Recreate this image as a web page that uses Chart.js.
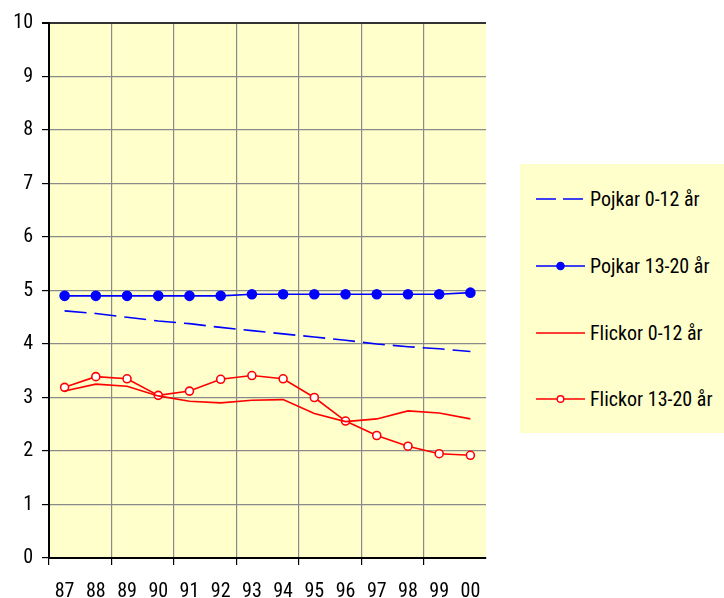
<!DOCTYPE html>
<html>
<head>
<meta charset="utf-8">
<script src="https://cdn.jsdelivr.net/npm/chart.js@4.4.1/dist/chart.umd.min.js"></script>
<style>
    html, body { margin:0; padding:0; background:#fff; }
    #wrap { position:relative; width:724px; height:598px; }
    #legend {
        position:absolute; left:520px; top:164px; width:204px; height:269px;
        background:#FFFFCC;
        font-family:"Roboto Condensed", "Liberation Sans", sans-serif;
        font-size:20px; color:#000;
    }
    .item { position:absolute; left:16px; height:24px; display:flex; align-items:center; white-space:nowrap; }
    .item svg { margin-right:5px; }
</style>
</head>
<body>
<div id="wrap">
    <canvas id="chart" width="724" height="598"></canvas>
    <div id="legend"></div>
</div>
<script>
// ===============================
// DATA
// ===============================

const years = ["87","88","89","90","91","92","93","94","95","96","97","98","99","00"];

const pojkar012  = [4.62,4.57,4.50,4.43,4.38,4.31,4.25,4.19,4.13,4.07,4.00,3.95,3.91,3.86];
const pojkar1320 = [4.90,4.90,4.90,4.90,4.90,4.90,4.93,4.93,4.93,4.93,4.93,4.93,4.93,4.96];
const flickor012 = [3.12,3.25,3.21,3.03,2.93,2.90,2.95,2.96,2.70,2.55,2.60,2.75,2.71,2.60];
const flickor1320= [3.19,3.39,3.35,3.04,3.12,3.34,3.41,3.35,3.00,2.56,2.29,2.09,1.95,1.92];

const yTicks = [0,1,2,3,4,5,6,7,8,9,10];

const FONT = "'Roboto Condensed', 'Liberation Sans', sans-serif";

// ===============================
// CHART
// ===============================

const series = [
    { label:"Pojkar 0-12 år",   data:pojkar012,   color:"#0000FF", dash:[22,8], radius:0,   fill:null },
    { label:"Pojkar 13-20 år",  data:pojkar1320,  color:"#0000FF", dash:[],     radius:4.5, fill:"#0000FF" },
    { label:"Flickor 0-12 år",  data:flickor012,  color:"#FF0000", dash:[],     radius:0,   fill:null },
    { label:"Flickor 13-20 år", data:flickor1320, color:"#FF0000", dash:[],     radius:4,   fill:"#FFFFFF" }
];

const plotBg = {
    id:"plotBg",
    beforeDraw(chart){
        const a = chart.chartArea;
        const ctx = chart.ctx;
        ctx.save();
        ctx.fillStyle = "#FFFFCC";
        ctx.fillRect(a.left, a.top, a.right - a.left, a.bottom - a.top);
        ctx.restore();
    }
};

new Chart(document.getElementById("chart"), {
    type:"line",
    data:{
        labels:years,
        datasets:series.map(s => ({
            label:s.label,
            data:s.data,
            borderColor:s.color,
            borderWidth:1.6,
            borderDash:s.dash,
            backgroundColor:s.fill || s.color,
            pointRadius:s.radius,
            pointBorderWidth:1.6,
            pointBorderColor:s.color,
            pointBackgroundColor:s.fill || s.color,
            tension:0,
            fill:false
        }))
    },
    options:{
        responsive:false,
        animation:false,
        layout:{ padding:{ left:0, top:23, right:238, bottom:0 } },
        plugins:{
            legend:{ display:false },
            tooltip:{ enabled:false }
        },
        scales:{
            x:{
                offset:true,
                afterFit(s){ s.height = 40; },
                grid:{
                    offset:true,
                    color:c => c.index === 14 ? "#333333" : (c.index % 2 === 0 ? "#8A8A8A" : "rgba(0,0,0,0)"),
                    lineWidth:c => c.index === 14 ? 2 : 1.2,
                    tickColor:c => c.index % 2 === 0 ? "#000000" : "rgba(0,0,0,0)",
                    tickLength:7
                },
                border:{ color:"#000000", width:2 },
                ticks:{
                    color:"#000",
                    font:{ family:FONT, size:20 },
                    padding:15,
                    maxRotation:0,
                    autoSkip:false
                }
            },
            y:{
                min:0,
                max:10,
                afterFit(s){ s.width = 49; },
                afterBuildTicks(s){ s.ticks = yTicks.map(v => ({ value:v })); },
                grid:{
                    color:c => c.tick && c.tick.value === 10 ? "#333333" : "#8A8A8A",
                    lineWidth:c => c.tick && c.tick.value === 10 ? 2 : 1.2,
                    tickColor:"#000000",
                    tickLength:7
                },
                border:{ color:"#000000", width:2 },
                ticks:{
                    color:"#000",
                    font:{ family:FONT, size:20 },
                    padding:9
                }
            }
        }
    },
    plugins:[plotBg]
});

// ===============================
// LEGEND
// ===============================

const legend = document.getElementById("legend");
const itemTops = [23, 90, 157, 223];

series.forEach((s, i) => {
    const item = document.createElement("div");
    item.className = "item";
    item.style.top = itemTops[i] + "px";
    const dash = s.dash.length ? 'stroke-dasharray="20,7"' : "";
    const mark = s.radius
        ? `<circle cx="24.5" cy="12" r="${s.fill === "#FFFFFF" ? 3.3 : 3.6}" fill="${s.fill}" stroke="${s.color}" stroke-width="1.4"/>`
        : "";
    item.innerHTML = `
        <svg width="49" height="24"><line x1="0" y1="12" x2="49" y2="12" stroke="${s.color}" stroke-width="1.5" ${dash}/>${mark}</svg>
        <span>${s.label}</span>`;
    legend.appendChild(item);
});
</script>
</body>
</html>
